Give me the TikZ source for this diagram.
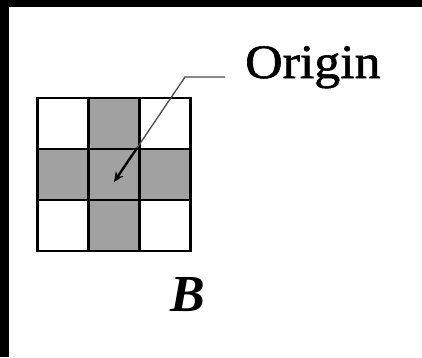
\documentclass[tikz,border=0pt]{standalone}
\usepackage{fontspec}
\setmainfont{Liberation Serif}
\newfontfamily\heavyserif[FakeBold=1.2]{Liberation Serif}
\usetikzlibrary{arrows.meta}
\begin{document}
\begin{tikzpicture}[x=1pt,y=-1pt,
  cellbox/.style={draw=black,line width=2.2pt,minimum size=51pt,inner sep=0pt,outer sep=0pt},
  shaded/.style={cellbox,fill=black!37},
  leader/.style={draw=black!70,line width=1.3pt},
  pointer/.style={draw=black,line width=2.4pt,-{Stealth[length=10pt,width=9pt]}}]
\useasboundingbox (0,0) rectangle (422,357);
\fill[black] (0,0) rectangle (422,357);
\fill[white] (9,7) rectangle (422,357);
% grid cells
\node[cellbox] (c11) at (63,123.5) {};
\node[shaded]  (c12) at (114,123.5) {};
\node[cellbox] (c13) at (165,123.5) {};
\node[shaded]  (c21) at (63,174.5) {};
\node[shaded]  (c22) at (114,174.5) {};
\node[shaded]  (c23) at (165,174.5) {};
\node[cellbox] (c31) at (63,225.5) {};
\node[shaded]  (c32) at (114,225.5) {};
\node[cellbox] (c33) at (165,225.5) {};
% labels
\node[anchor=base west,inner sep=0pt,font=\heavyserif\fontsize{48}{48}\selectfont,xscale=1.08] (origin) at (245,78) {Origin};
\node[anchor=base,inner sep=0pt,font=\fontsize{52}{52}\selectfont\bfseries\itshape] (blabel) at (188,311) {B};
% leader
\coordinate (bend) at (185,77);
\coordinate (mid) at (137,148);
\coordinate (tip) at (114,182);
\draw[leader] ([xshift=-20pt]origin.west |- bend) -- (bend) -- (mid);
\draw[pointer] (mid) -- (tip);
\end{tikzpicture}
\end{document}
